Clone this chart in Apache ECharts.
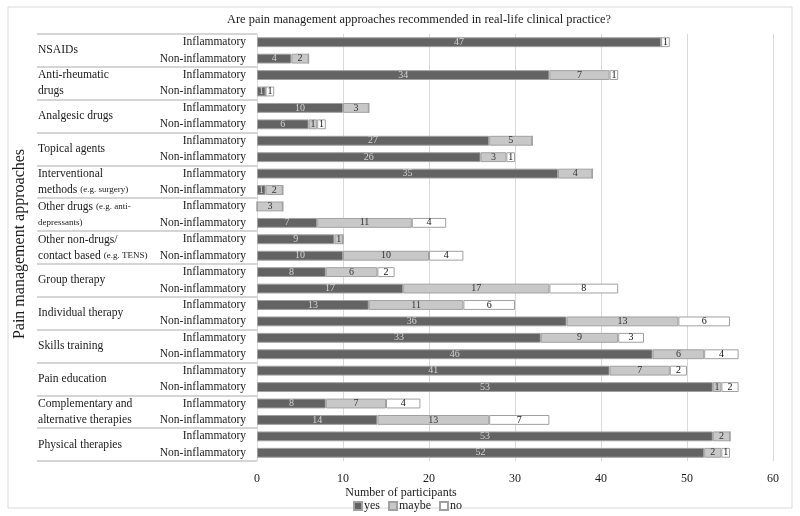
<!DOCTYPE html>
<html>
<head>
<meta charset="utf-8">
<script src="https://cdn.jsdelivr.net/npm/echarts@6/dist/echarts.min.js"></script>
<style>
  html, body { margin: 0; padding: 0; background: #fff; }
  #container { width: 800px; height: 516px; }
</style>
</head>
<body>
<div id="container"></div>
<script>
var groups = [
    'NSAIDs', 'Anti-rheumatic drugs', 'Analgesic drugs', 'Topical agents',
    'Interventional methods', 'Other drugs', 'Other non-drugs', 'Group therapy',
    'Individual therapy', 'Skills training', 'Pain education',
    'Complementary and alternative therapies', 'Physical therapies'
];
var subTypes = ['Inflammatory', 'Non-inflammatory'];

// yes / maybe / no, two rows per group (Inflammatory, Non-inflammatory)
var yesData = [47, 4, 34, 1, 10, 6, 27, 26, 35, 1, 0, 7, 9, 10, 8, 17, 13, 36, 33, 46, 41, 53, 8, 14, 53, 52];
var maybeData = [0, 2, 7, 0, 3, 1, 5, 3, 4, 2, 3, 11, 1, 10, 6, 17, 11, 13, 9, 6, 7, 1, 7, 13, 2, 2];
var noData = [1, 0, 1, 1, 0, 1, 0, 1, 0, 0, 0, 4, 0, 4, 2, 8, 6, 6, 3, 4, 2, 2, 4, 7, 0, 1];

var xTicks = [0, 10, 20, 30, 40, 50, 60];

var rows = [];
groups.forEach(function () {
    rows.push(subTypes[0], subTypes[1]);
});

// how group names are printed on the left
var groupLabels = {
    'Anti-rheumatic drugs': '{a|Anti-rheumatic}\n{a|drugs}',
    'Interventional methods': '{a|Interventional}\n{a|methods }{s|(e.g. surgery)}',
    'Other drugs': '{a|Other drugs }{s|(e.g. anti-}\n{s|depressants)}',
    'Other non-drugs': '{a|Other non-drugs/}\n{a|contact based }{s|(e.g. TENS)}',
    'Complementary and alternative therapies': '{a|Complementary and}\n{a|alternative therapies}'
};

var FONT = '"Liberation Serif", "DejaVu Serif", serif';
var chart = echarts.init(document.getElementById('container'));

function makeSeries(name, data, color, labelColor) {
    return {
        name: name,
        type: 'bar',
        stack: 'all',
        yAxisIndex: 0,
        barCategoryGap: '40%',
        data: data,
        itemStyle: { color: color, borderColor: '#a0a0a0', borderWidth: 1 },
        label: {
            show: true,
            position: 'inside',
            color: labelColor,
            fontFamily: FONT,
            fontSize: 10,
            formatter: function (p) { return p.value > 0 ? p.value : ''; }
        },
        emphasis: { disabled: true }
    };
}

var option = {
    animation: false,
    backgroundColor: '#fff',
    textStyle: { fontFamily: FONT },
    title: [{
        text: 'Are pain management approaches recommended in real-life clinical practice?',
        left: 414, top: 9, textAlign: 'center',
        textStyle: { fontFamily: FONT, fontSize: 12.4, fontWeight: 'normal', color: '#1a1a1a' }
    }, {
        text: 'Number of participants',
        left: 396, top: 482, textAlign: 'center',
        textStyle: { fontFamily: FONT, fontSize: 12, fontWeight: 'normal', color: '#1a1a1a' }
    }],
    legend: {
        left: 348, top: 495,
        itemWidth: 8, itemHeight: 8, itemGap: 8,
        icon: 'rect',
        textStyle: { fontFamily: FONT, fontSize: 12, color: '#1a1a1a', padding: [0, 0, 0, -3] },
        data: ['yes', 'maybe', 'no']
    },
    graphic: [{
        type: 'rect',
        shape: { x: 8, y: 7, width: 784, height: 501 },
        style: { fill: 'none', stroke: '#d9d9d9', lineWidth: 1 },
        z: -1
    }, {
        type: 'text',
        x: 20, y: 244, rotation: Math.PI / 2,
        style: {
            text: 'Pain management approaches', fontFamily: FONT, fontSize: 16,
            fill: '#1a1a1a', align: 'center', verticalAlign: 'middle'
        }
    }],
    grid: { left: 257, right: 27, top: 34, bottom: 55 },
    xAxis: {
        type: 'value',
        min: xTicks[0], max: xTicks[xTicks.length - 1], interval: 10,
        axisLine: { show: false },
        axisTick: { show: false },
        axisLabel: { fontFamily: FONT, fontSize: 12, color: '#1a1a1a', margin: 12 },
        splitLine: { lineStyle: { color: '#d9d9d9', width: 1 } }
    },
    yAxis: [{
        type: 'category',
        data: rows,
        inverse: true,
        axisLine: { show: false },
        axisTick: { show: false },
        axisLabel: { interval: 0, fontFamily: FONT, fontSize: 11.5, color: '#1a1a1a', margin: 11 }
    }, {
        type: 'category',
        data: groups,
        inverse: true,
        position: 'left',
        axisLine: { show: false },
        axisTick: { show: true, interval: 0, length: 220, lineStyle: { color: '#c8c8c8', width: 1.5 } },
        axisLabel: {
            interval: 0, align: 'left', margin: 219,
            formatter: function (v) { return groupLabels[v] || '{a|' + v + '}'; },
            rich: {
                a: { fontFamily: FONT, fontSize: 11.6, color: '#1a1a1a', lineHeight: 16 },
                s: { fontFamily: FONT, fontSize: 9, color: '#1a1a1a', lineHeight: 16 }
            }
        }
    }],
    series: [
        makeSeries('yes', yesData, '#636363', '#d4d4d4'),
        makeSeries('maybe', maybeData, '#c8c8c8', '#333333'),
        makeSeries('no', noData, '#ffffff', '#111111')
    ]
};
chart.setOption(option);
</script>
</body>
</html>
